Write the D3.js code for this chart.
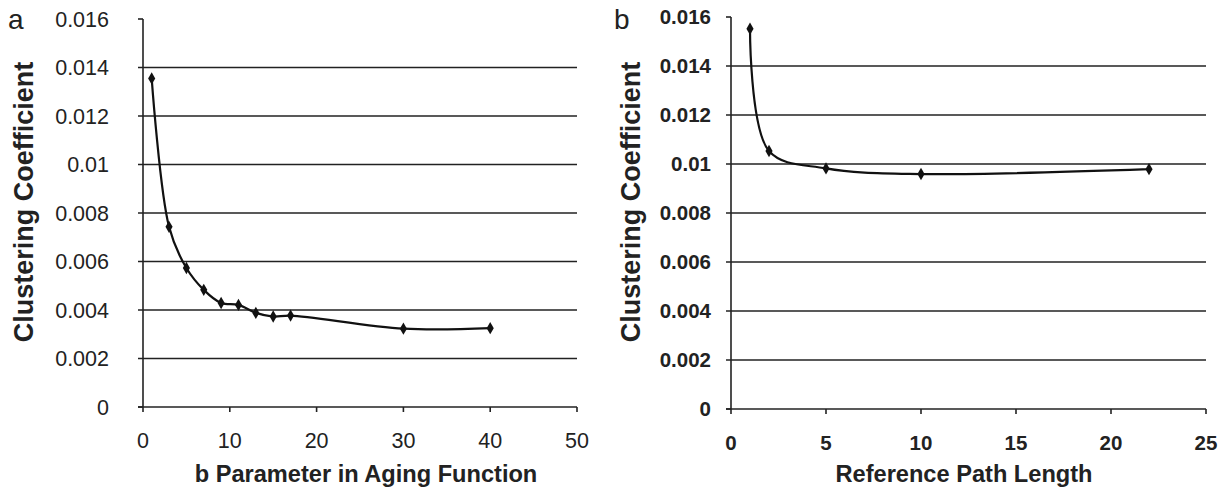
<!DOCTYPE html>
<html lang="en">
<head>
  <meta charset="UTF-8" />
  <title>Clustering Coefficient</title>
  <script src="https://d3js.org/d3.v7.min.js"></script>
  <style>
    body {
      margin: 0;
      background: white;
      font-family: "Liberation Sans", Arial, sans-serif;
    }
    svg { display: block; }
    .tick-label { font-size: 21.5px; fill: #222; }
    .bold-ticks .tick-label { font-weight: bold; font-size: 20.5px; }
    .x-title { font-size: 23.6px; font-weight: bold; fill: #222; }
    .y-title { font-size: 27px; font-weight: bold; fill: #222; }
    .panel-label { font-size: 28px; fill: #222; }
  </style>
</head>
<body>
  <svg id="chart" width="1232" height="491"></svg>

  <script>
    // Panel a: b parameter in aging function
    const agingB = [1, 3, 5, 7, 9, 11, 13, 15, 17, 30, 40];
    const agingCC = [0.01355, 0.00743, 0.00573, 0.00483, 0.00429, 0.00421, 0.00388, 0.00373, 0.00377, 0.00323, 0.00325];

    // Panel b: reference path length
    const pathLen = [1, 2, 5, 10, 22];
    const pathCC = [0.01552, 0.01053, 0.00982, 0.00959, 0.00979];

    const yTicks = [0, 0.002, 0.004, 0.006, 0.008, 0.01, 0.012, 0.014, 0.016];
    const xTicksA = [0, 10, 20, 30, 40, 50];
    const xTicksB = [0, 5, 10, 15, 20, 25];

    const svg = d3.select("#chart");
    const ink = "#222";

    function drawPanel(opt) {
      const x = d3.scaleLinear().domain(opt.xDomain).range([opt.left, opt.right]);
      const y = d3.scaleLinear().domain([0, 0.016]).range([opt.bottom, opt.top]);
      const g = svg.append("g").attr("class", opt.cls);

      // gridlines (none at top value)
      g.selectAll("line.grid")
        .data(yTicks.filter(d => d > 0 && d < 0.016))
        .enter().append("line")
        .attr("x1", opt.left - 5).attr("x2", opt.right)
        .attr("y1", d => y(d)).attr("y2", d => y(d))
        .attr("stroke", ink).attr("stroke-width", 1.6);

      // y axis
      g.append("line")
        .attr("x1", opt.left).attr("x2", opt.left)
        .attr("y1", opt.top).attr("y2", opt.bottom)
        .attr("stroke", ink).attr("stroke-width", 1.6);
      g.selectAll("line.ytick")
        .data([0, 0.016])
        .enter().append("line")
        .attr("x1", opt.left - 5).attr("x2", opt.left)
        .attr("y1", d => y(d)).attr("y2", d => y(d))
        .attr("stroke", ink).attr("stroke-width", 1.6);
      g.selectAll("text.ylab")
        .data(yTicks)
        .enter().append("text")
        .attr("class", "tick-label")
        .attr("x", opt.yLabelRight)
        .attr("y", d => y(d))
        .attr("dy", "0.35em")
        .attr("text-anchor", "end")
        .text(d => d === 0 ? "0" : String(d));

      // x axis
      g.append("line")
        .attr("x1", opt.left - 5).attr("x2", opt.right)
        .attr("y1", opt.bottom).attr("y2", opt.bottom)
        .attr("stroke", ink).attr("stroke-width", 1.6);
      g.selectAll("line.xtick")
        .data(opt.xTicks)
        .enter().append("line")
        .attr("x1", d => x(d)).attr("x2", d => x(d))
        .attr("y1", opt.bottom).attr("y2", opt.bottom + 5)
        .attr("stroke", ink).attr("stroke-width", 1.6);
      g.selectAll("text.xlab")
        .data(opt.xTicks)
        .enter().append("text")
        .attr("class", "tick-label")
        .attr("x", d => x(d))
        .attr("y", opt.xLabelY)
        .attr("text-anchor", "middle")
        .text(d => d);

      // titles
      g.append("text")
        .attr("class", "x-title")
        .attr("x", opt.xTitleX)
        .attr("y", 482)
        .attr("text-anchor", "middle")
        .text(opt.xTitle);
      g.append("text")
        .attr("class", "y-title")
        .attr("transform", `translate(${opt.yTitleX},202) rotate(-90)`)
        .attr("text-anchor", "middle")
        .text("Clustering Coefficient");
      g.append("text")
        .attr("class", "panel-label")
        .attr("x", opt.labelX)
        .attr("y", 29)
        .text(opt.label);

      // smoothed line + diamond markers
      const pts = opt.xs.map((v, i) => [v, opt.ys[i]]);
      const line = d3.line()
        .x(d => x(d[0]))
        .y(d => y(d[1]))
        .curve(d3.curveCatmullRom.alpha(0.5));
      g.append("path")
        .datum(pts)
        .attr("d", line)
        .attr("fill", "none")
        .attr("stroke", "#111")
        .attr("stroke-width", 2.2);
      g.selectAll("path.mk")
        .data(pts)
        .enter().append("path")
        .attr("d", d3.symbol(d3.symbolDiamond, 44))
        .attr("transform", d => `translate(${x(d[0])},${y(d[1])})`)
        .attr("fill", "#111");
    }

    drawPanel({
      cls: "panel-a",
      xs: agingB, ys: agingCC, xDomain: [0, 50], xTicks: xTicksA,
      left: 143, right: 577, top: 19, bottom: 407,
      yLabelRight: 109, xLabelY: 448,
      xTitle: "b Parameter in Aging Function", xTitleX: 366,
      yTitleX: 33, label: "a", labelX: 8
    });

    drawPanel({
      cls: "panel-b bold-ticks",
      xs: pathLen, ys: pathCC, xDomain: [0, 25], xTicks: xTicksB,
      left: 731, right: 1206, top: 17, bottom: 409,
      yLabelRight: 711, xLabelY: 450,
      xTitle: "Reference Path Length", xTitleX: 964,
      yTitleX: 640, label: "b", labelX: 614
    });
  </script>
</body>
</html>
